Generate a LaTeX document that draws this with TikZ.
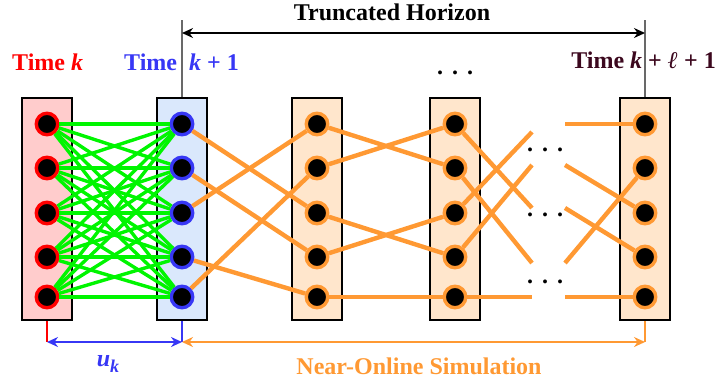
\documentclass[tikz,border=0pt]{standalone}
\usepackage{fontspec}
\setmainfont{Liberation Serif}
\usetikzlibrary{arrows.meta}

\definecolor{ringred}{RGB}{255,0,0}
\definecolor{ringblue}{RGB}{55,55,245}
\definecolor{ringorange}{RGB}{255,153,51}
\definecolor{linkgreen}{RGB}{0,245,0}
\definecolor{fillpink}{RGB}{255,204,204}
\definecolor{fillblue}{RGB}{218,232,252}
\definecolor{fillpeach}{RGB}{255,230,204}
\definecolor{deepmaroon}{RGB}{60,8,30}
\definecolor{guidegray}{RGB}{105,105,105}

\begin{document}
\begin{tikzpicture}[x=1pt,y=-1pt,
  layerbox/.style={draw=black, line width=2.4pt, minimum width=50pt, minimum height=222pt, inner sep=0pt},
  state/.style={circle, fill=black, line width=3.4pt, minimum size=21.5pt, inner sep=0pt},
  greenlink/.style={draw=linkgreen, line width=3.4pt},
  orangelink/.style={draw=ringorange, line width=4.4pt},
  guide/.style={draw=guidegray, line width=1.4pt},
  lbl/.style={font=\fontsize{24}{28}\selectfont\bfseries, inner sep=0pt},
  dots/.style={font=\fontsize{24}{28}\selectfont\bfseries, inner sep=0pt, anchor=base},
  span/.style={{Stealth[length=11pt,width=10pt]}-{Stealth[length=11pt,width=10pt]}}
]
\useasboundingbox (0,0) rectangle (719,381);

% time-step columns
\node[layerbox, fill=fillpink]  (L1) at (47,209)  {};
\node[layerbox, fill=fillblue]  (L2) at (182,209) {};
\node[layerbox, fill=fillpeach] (L3) at (317,209) {};
\node[layerbox, fill=fillpeach] (L4) at (455,209) {};
\node[layerbox, fill=fillpeach] (L5) at (645,209) {};

% state nodes
\foreach \c/\x/\col in {1/47/ringred, 2/182/ringblue, 3/317/ringorange, 4/455/ringorange, 5/645/ringorange}
  \foreach \r/\y in {1/124, 2/168, 3/213, 4/257, 5/297}
    \node[state, draw=\col] (n\c\r) at (\x,\y) {};

% all control choices from time k to time k+1
\foreach \i in {1,...,5}
  \foreach \j in {1,...,5}
    \draw[greenlink] (n1\i) -- (n2\j);

% simulated transitions
\foreach \i/\j in {1/3, 2/4, 3/1, 4/5, 5/2}
  \draw[orangelink] (n2\i) -- (n3\j);
\foreach \i/\j in {1/2, 2/1, 3/4, 4/3, 5/5}
  \draw[orangelink] (n3\i) -- (n4\j);

% loose ends on either side of the elided steps
\coordinate (a1) at (532,208);
\coordinate (a2) at (532,263);
\coordinate (a3) at (532,132);
\coordinate (a4) at (532,165);
\coordinate (a5) at (532,297);
\foreach \i in {1,...,5}
  \draw[orangelink] (n4\i) -- (a\i);

\coordinate (b1) at (565,124);
\coordinate (b2) at (565,165);
\coordinate (b3) at (565,208);
\coordinate (b4) at (565,263);
\coordinate (b5) at (565,297);
\foreach \i/\j in {1/1, 2/3, 3/4, 4/2, 5/5}
  \draw[orangelink] (b\i) -- (n5\j);

% ellipses
\node[dots] (e0) at (455,74)  {.\hspace{9pt}.\hspace{9pt}.};
\node[dots] (e1) at (545,151) {.\hspace{9pt}.\hspace{9pt}.};
\node[dots] (e2) at (545,216) {.\hspace{9pt}.\hspace{9pt}.};
\node[dots] (e3) at (545,283) {.\hspace{9pt}.\hspace{9pt}.};

% truncated horizon
\coordinate (t2) at (182,20);
\coordinate (t5) at (645,20);
\draw[guide] (t2) -- (L2.north);
\draw[guide] (t5) -- (L5.north);
\coordinate (h2) at (182,33);
\coordinate (h5) at (645,33);
\draw[span, line width=1.6pt, black] (h2) -- (h5);
\node[lbl, anchor=base] (th) at (392,20) {Truncated Horizon};

% time labels
\node[lbl, anchor=base west, text=ringred] (tk) at (12,70) {Time \textit{k}};
\node[lbl, anchor=base west, text=ringblue] (tk1) at (124,70) {Time\hspace{12pt}\textit{k} + 1};
\node[lbl, anchor=base east, text=deepmaroon] (tkl) at (716,68) {Time \textit{k} + \textit{ℓ} + 1};

% bottom spans
\coordinate (d1) at (47,342);
\coordinate (d2) at (182,342);
\coordinate (d5) at (645,342);
\draw[draw=ringred, line width=1.1pt] (L1.south) -- (d1);
\draw[draw=ringblue, line width=1.1pt] (L2.south) -- (d2);
\draw[draw=ringorange, line width=1.1pt] (L5.south) -- (d5);
\draw[span, draw=ringblue, fill=ringblue, line width=2.8pt] (d1) -- (d2);
\draw[span, draw=ringorange, fill=ringorange, line width=2.4pt] (d2) -- (d5);

\node[lbl, anchor=base, text=ringblue] (uk) at (108,366)
  {\textit{u}\raisebox{-6pt}{\fontsize{18}{20}\selectfont\textit{k}}};
\node[lbl, anchor=base, text=ringorange] (nos) at (419,374) {Near-Online Simulation};
\end{tikzpicture}
\end{document}
